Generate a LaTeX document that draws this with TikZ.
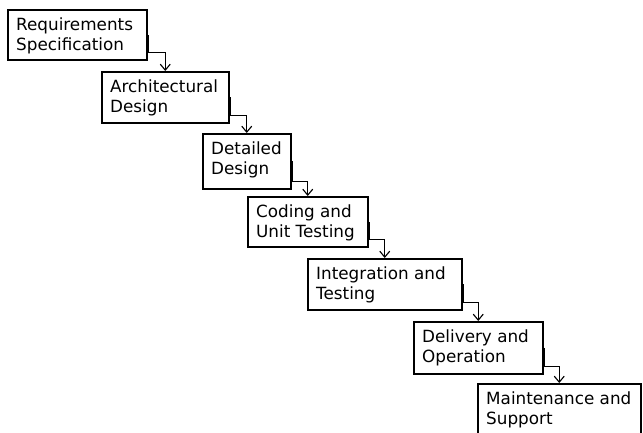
\documentclass[tikz,border=0pt]{standalone}
\usepackage{fontspec}
\setmainfont{DejaVu Sans}
\usetikzlibrary{arrows.meta}
\tikzset{
  phase/.style={draw=black, line width=1.5pt, rectangle, inner sep=0pt, anchor=north west},
  phasetext/.style={anchor=base west, align=left, inner sep=0pt,
    font=\fontsize{16.8pt}{20pt}\selectfont},
  flow/.style={draw=black, line width=1.1pt, -{Straight Barb[length=6pt,width=10pt,line width=1.1pt]}},
}
% place a phase box from its top-left corner (x,y) with size w x h;
% the text node is anchored on the baseline of its last line
\newcommand{\phasebox}[6]{%
  \node[phase, minimum width=#4pt, minimum height=#5pt] (#1) at (#2,#3) {};
  \node[phasetext] (#1t) at ([xshift=9pt,yshift=-41pt]#1.north west) {#6};
}
\begin{document}
\begin{tikzpicture}[x=1pt,y=-1pt]
\useasboundingbox (0,0) rectangle (643,432);
\phasebox{p1}{7}{9}{139}{50}{Requirements\\Specification}
\phasebox{p2}{101}{71}{127}{51}{Architectural\\Design}
\phasebox{p3}{202}{133}{88}{55}{Detailed\\Design}
\phasebox{p4}{247}{196}{120}{50}{Coding and\\Unit Testing}
\phasebox{p5}{307}{258}{154}{51}{Integration and\\Testing}
\phasebox{p6}{413}{321}{129}{52}{Delivery and\\Operation}
\phasebox{p7}{477}{383}{163}{52}{Maintenance and\\Support}
% stepwise hand-over between consecutive phases
\foreach \a/\b in {p1/p2,p2/p3,p3/p4,p4/p5,p5/p6,p6/p7}{
  \draw[flow] ([xshift=0.9pt]\a.east) -- ([xshift=0.9pt,yshift=8pt]\a.south east) -| (\b.north);
}
\end{tikzpicture}
\end{document}
